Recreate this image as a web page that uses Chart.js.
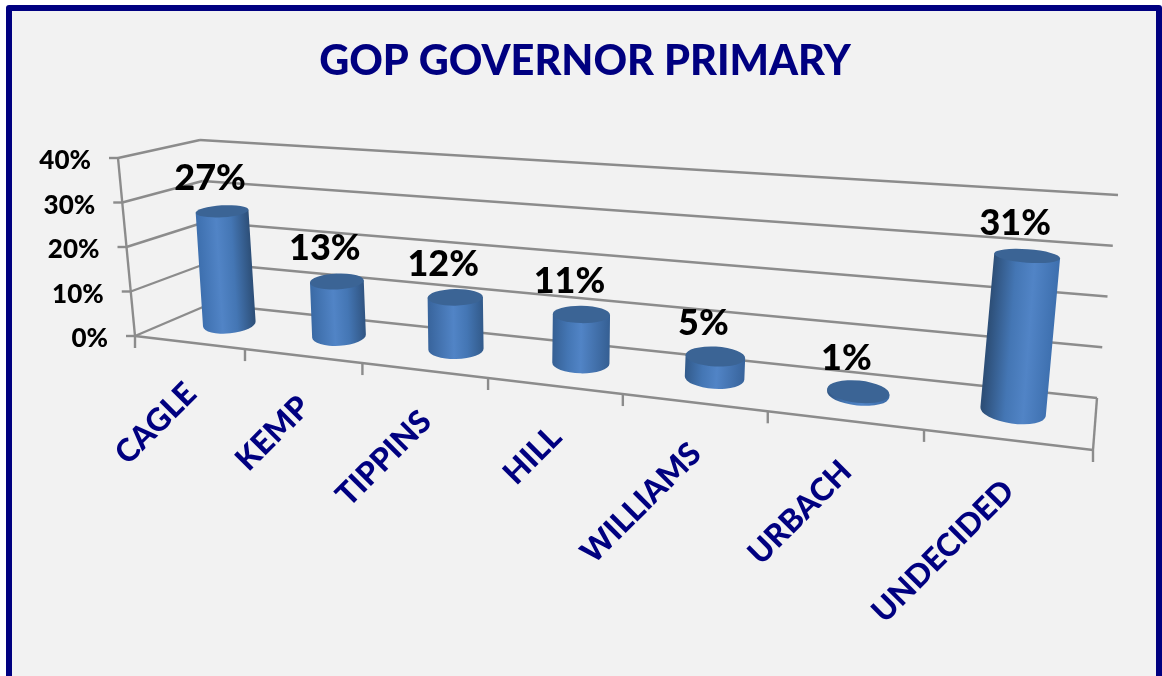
<!DOCTYPE html>
<html>
<head>
<meta charset="utf-8">
<title>GOP Governor Primary</title>
<script src="https://cdn.jsdelivr.net/npm/chart.js@4"></script>
<style>
html,body{margin:0;padding:0;background:#fff;overflow:hidden;}
#frame{
    position:absolute;left:6px;top:5px;width:1156px;height:720px;
    box-sizing:border-box;background:#f2f2f2;
    border:6px solid #000080;border-radius:3px;
}
#cv{position:absolute;left:0;top:0;}
</style>
</head>
<body>
<div id="frame"></div>
<canvas id="cv" width="1162" height="676"></canvas>
<script>
const categories = ["CAGLE","KEMP","TIPPINS","HILL","WILLIAMS","URBACH","UNDECIDED"];
const shares = [27,13,12,11,5,1,31];
const yTicks = [0,10,20,30,40];

// corners of the 3D box on the page, [left, right]
const box = {
    frontBottom:[[135,336],[1093,450]],
    frontTop:[[118,158],[1116,229]],
    backBottom:[[210,304],[1097,398]],
    backTop:[[200,140],[1118,195]]
};
const persp = 1.285;

function mix(a,b,t){ return a+(b-a)*t; }

function mixColor(a,b,t){
    return "rgb("+a.map((c,i) => Math.round(mix(c,b[i],t))).join(",")+")";
}

function edge(e,f){
    return [mix(e[0][0],e[1][0],f),mix(e[0][1],e[1][1],f)];
}

// u along the categories, v up the value axis, d into the depth (all 0..1)
function project(u,v,d){
    const f = u/(u+persp*(1-u));
    const fb = edge(box.frontBottom,f), ft = edge(box.frontTop,f);
    const bb = edge(box.backBottom,f), bt = edge(box.backTop,f);
    const fx = mix(fb[0],ft[0],v), fy = mix(fb[1],ft[1],v);
    const bx = mix(bb[0],bt[0],v), by = mix(bb[1],bt[1],v);
    return [mix(fx,bx,d),mix(fy,by,d)];
}

function line(ctx,a,b){
    ctx.beginPath();
    ctx.moveTo(a[0],a[1]);
    ctx.lineTo(b[0],b[1]);
    ctx.stroke();
}

function norm(chart,bar){
    const x = chart.scales.x, y = chart.scales.y;
    return {
        u:(bar.x-x.left)/x.width,
        v:(y.bottom-bar.y)/y.height
    };
}

const box3d = {
    id:"box3d",
    beforeDatasetsDraw(chart){
        const ctx = chart.ctx, x = chart.scales.x, y = chart.scales.y;
        ctx.save();
        ctx.strokeStyle = "#8c8c8c";
        ctx.lineWidth = 2.4;
        y.ticks.forEach(t => {
            const v = (y.bottom-y.getPixelForValue(t.value))/y.height;
            const fl = project(0,v,0), bl = project(0,v,1), br = project(1,v,1);
            line(ctx,[fl[0]-9,fl[1]],fl);
            line(ctx,fl,bl);
            line(ctx,bl,br);
            ctx.fillStyle = "#000";
            ctx.font = "900 26px Lato";
            ctx.textAlign = "right";
            ctx.textBaseline = "middle";
            ctx.fillText(t.label,fl[0]-27,fl[1]+3);
        });
        line(ctx,project(0,0,0),project(0,1,0));
        line(ctx,project(0,0,0),project(1,0,0));
        line(ctx,project(1,0,0),project(1,0,1));
        categories.forEach((c,i) => {
            const p = project(i/categories.length,0,0);
            line(ctx,p,[p[0],p[1]+12]);
        });
        const end = project(1,0,0);
        line(ctx,end,[end[0],end[1]+12]);
        ctx.restore();
    },
    afterDatasetsDraw(chart){
        const ctx = chart.ctx;
        chart.getDatasetMeta(0).data.forEach((bar,i) => {
            const n = norm(chart,bar);
            const dx = 2*Math.sin(Math.PI*n.u);
            const b = project(n.u,0,0.56), t = project(n.u,Math.max(n.v*0.985-0.012,0.01),0.56);
            b[0] += dx;
            t[0] += dx;
            const w = bar.width/2*(0.96+0.06*n.u+0.22*n.u*n.u);
            drawCylinder(ctx,b,t,w,n.u,n.v);
            ctx.save();
            ctx.fillStyle = "#000";
            ctx.font = "900 36px Lato";
            ctx.textAlign = "center";
            ctx.textBaseline = "middle";
            ctx.fillText(shares[i]+"%",t[0]-12,t[1]-33);
            ctx.restore();
        });
        ctx.save();
        ctx.fillStyle = "#000080";
        ctx.font = "900 31.5px Lato";
        ctx.textAlign = "right";
        ctx.textBaseline = "middle";
        categories.forEach((c,i) => {
            const p = project((i+0.5)/categories.length,0,0);
            ctx.save();
            ctx.translate(p[0]+2,p[1]+46);
            ctx.rotate(-Math.PI/4);
            ctx.fillText(c,0,0);
            ctx.restore();
        });
        ctx.restore();
    }
};

function drawCylinder(ctx,b,t,w,u,v){
    const tilt0 = -0.12+0.28*u;
    const tiltT = tilt0*(1-0.6*v);
    const rb = w*0.36, rt = w*(0.36-0.2*v);
    const cb = Math.cos(tilt0), sb = Math.sin(tilt0);
    const ct = Math.cos(tiltT), st = Math.sin(tiltT);
    const hi = mix(0.36,0.64,u);
    const left = [t[0]-w*ct,t[1]-w*st];
    const right = [t[0]+w*ct,t[1]+w*st];
    const soft = [62,114,178], dark = [44,76,116];
    const g = ctx.createLinearGradient(left[0],left[1],right[0],right[1]);
    g.addColorStop(0,mixColor(soft,dark,u));
    g.addColorStop(hi,"#5184c6");
    g.addColorStop(mix(hi,u<0.5?1:0,0.45),"#4476b4");
    g.addColorStop(1,mixColor(soft,dark,1-u));
    ctx.save();
    ctx.fillStyle = g;
    ctx.beginPath();
    ctx.moveTo(left[0],left[1]);
    ctx.lineTo(b[0]-w*cb,b[1]-w*sb);
    ctx.ellipse(b[0],b[1],w,rb,tilt0,Math.PI,0,true);
    ctx.lineTo(right[0],right[1]);
    ctx.closePath();
    ctx.fill();
    ctx.fillStyle = "#3b6495";
    ctx.beginPath();
    ctx.ellipse(t[0],t[1],w,rt,tiltT,0,Math.PI*2);
    ctx.fill();
    ctx.restore();
}

new Chart(document.getElementById("cv"),{
    type:"bar",
    data:{
        labels:categories,
        datasets:[{
            data:shares,
            backgroundColor:"transparent",
            barPercentage:0.4,
            categoryPercentage:1
        }]
    },
    options:{
        responsive:false,
        animation:false,
        layout:{padding:{left:106,right:98,bottom:340,top:10}},
        plugins:{
            legend:{display:false},
            tooltip:{enabled:false},
            title:{
                display:true,
                text:"GOP GOVERNOR PRIMARY",
                color:"#000080",
                font:{family:"Lato",size:41.5,weight:"900"},
                padding:{top:27,bottom:30}
            }
        },
        scales:{
            x:{
                grid:{display:false},
                border:{display:false},
                ticks:{display:false}
            },
            y:{
                min:0,
                max:40,
                grid:{display:false,drawTicks:false},
                border:{display:false},
                afterBuildTicks(axis){ axis.ticks = yTicks.map(v => ({value:v})); },
                ticks:{display:false,callback:v => v+"%"}
            }
        }
    },
    plugins:[box3d]
});
</script>
</body>
</html>
